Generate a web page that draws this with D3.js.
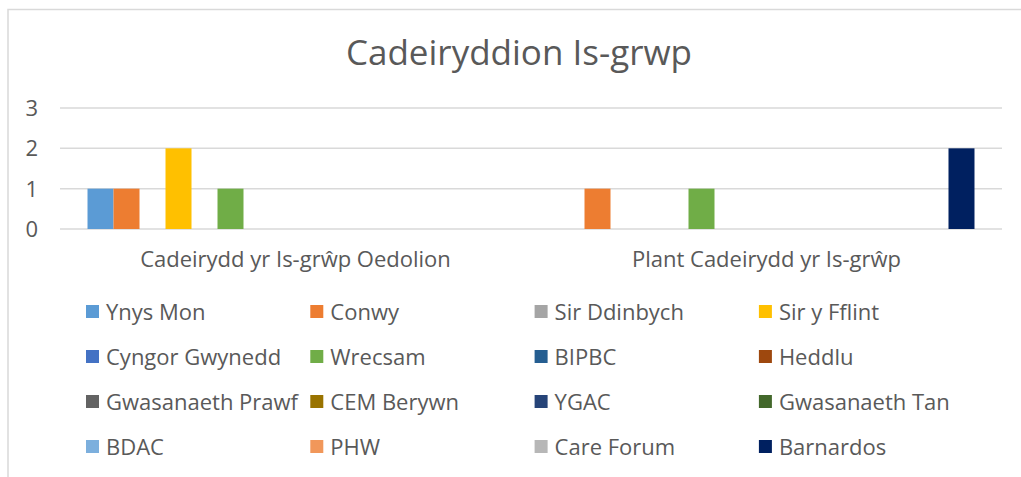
<!DOCTYPE html>
<html lang="cy">
  <head>
    <meta charset="UTF-8" />
    <title>Cadeiryddion Is-grwp</title>
    <script src="https://d3js.org/d3.v7.min.js"></script>
    <style>
      body { margin: 0; background: #fff; }
      text { font-family: "Open Sans", sans-serif; fill: #595959; }
    </style>
  </head>
  <body>
    <svg width="1021" height="477"></svg>

    <script>
      // data
      const categories = ["Cadeirydd yr Is-grŵp Oedolion", "Plant Cadeirydd yr Is-grŵp"];
      const seriesNames = [
        "Ynys Mon", "Conwy", "Sir Ddinbych", "Sir y Fflint",
        "Cyngor Gwynedd", "Wrecsam", "BIPBC", "Heddlu",
        "Gwasanaeth Prawf", "CEM Berywn", "YGAC", "Gwasanaeth Tan",
        "BDAC", "PHW", "Care Forum", "Barnardos"
      ];
      // one value per category for each series
      const oedolion = [1, 1, 0, 2, 0, 1, 0, 0, 0, 0, 0, 0, 0, 0, 0, 0];
      const plant    = [0, 1, 0, 0, 0, 1, 0, 0, 0, 0, 0, 0, 0, 0, 0, 2];
      const yTicks = [0, 1, 2, 3];
      const colors = [
        "#5B9BD5", "#ED7D31", "#A5A5A5", "#FFC000",
        "#4472C4", "#70AD47", "#255E91", "#9E480E",
        "#636363", "#997300", "#264478", "#43682B",
        "#7CAFDD", "#F1975A", "#B7B7B7", "#002060"
      ];

      const values = [oedolion, plant];

      const svg = d3.select("svg");

      // chart border
      svg.append("rect")
        .attr("x", 8).attr("y", 9.5)
        .attr("width", 1030).attr("height", 500)
        .attr("fill", "none")
        .attr("stroke", "#d9d9d9")
        .attr("stroke-width", 1.5);

      svg.append("text")
        .attr("x", 519).attr("y", 65)
        .attr("text-anchor", "middle")
        .style("font-size", "35px")
        .text("Cadeiryddion Is-grwp");

      const plotLeft = 60, plotRight = 1002, plotTop = 108, plotBottom = 229;

      const y = d3.scaleLinear().domain([0, 3]).range([plotBottom, plotTop]);

      const x0 = d3.scaleBand()
        .domain(categories)
        .range([plotLeft, plotRight])
        .paddingInner(0.1168)
        .paddingOuter(0.0584);

      const x1 = d3.scaleBand()
        .domain(seriesNames)
        .range([0, x0.bandwidth()]);

      // gridlines
      svg.append("g")
        .selectAll("line")
        .data(yTicks)
        .join("line")
        .attr("x1", plotLeft).attr("x2", plotRight)
        .attr("y1", d => y(d)).attr("y2", d => y(d))
        .attr("stroke", "#d9d9d9")
        .attr("stroke-width", 1.5);

      // y tick labels
      svg.append("g")
        .selectAll("text")
        .data(yTicks)
        .join("text")
        .attr("x", 38)
        .attr("y", d => y(d) + 8)
        .attr("text-anchor", "end")
        .style("font-size", "22px")
        .text(d => d);

      // bars
      const groups = svg.append("g")
        .selectAll("g")
        .data(categories)
        .join("g")
        .attr("transform", d => `translate(${x0(d)},0)`);

      groups.selectAll("rect")
        .data((d, i) => seriesNames.map((s, j) => ({ s, v: values[i][j], c: colors[j] })))
        .join("rect")
        .attr("x", d => x1(d.s))
        .attr("width", x1.bandwidth())
        .attr("y", d => y(d.v))
        .attr("height", d => plotBottom - y(d.v))
        .attr("fill", d => d.c);

      // category labels
      svg.append("g")
        .selectAll("text")
        .data(categories)
        .join("text")
        .attr("x", d => x0(d) + x0.bandwidth() / 2)
        .attr("y", 267)
        .attr("text-anchor", "middle")
        .style("font-size", "22px")
        .text(d => d);

      // legend, 4 columns
      const legend = svg.append("g")
        .selectAll("g")
        .data(seriesNames)
        .join("g")
        .attr("transform", (d, i) => `translate(${86 + (i % 4) * 224.3},${312 + Math.floor(i / 4) * 45})`);

      legend.append("rect")
        .attr("x", 0).attr("y", -7)
        .attr("width", 13).attr("height", 13)
        .attr("fill", (d, i) => colors[i]);

      legend.append("text")
        .attr("x", 20).attr("y", 8)
        .style("font-size", "22px")
        .text(d => d);
    </script>
  </body>
</html>
